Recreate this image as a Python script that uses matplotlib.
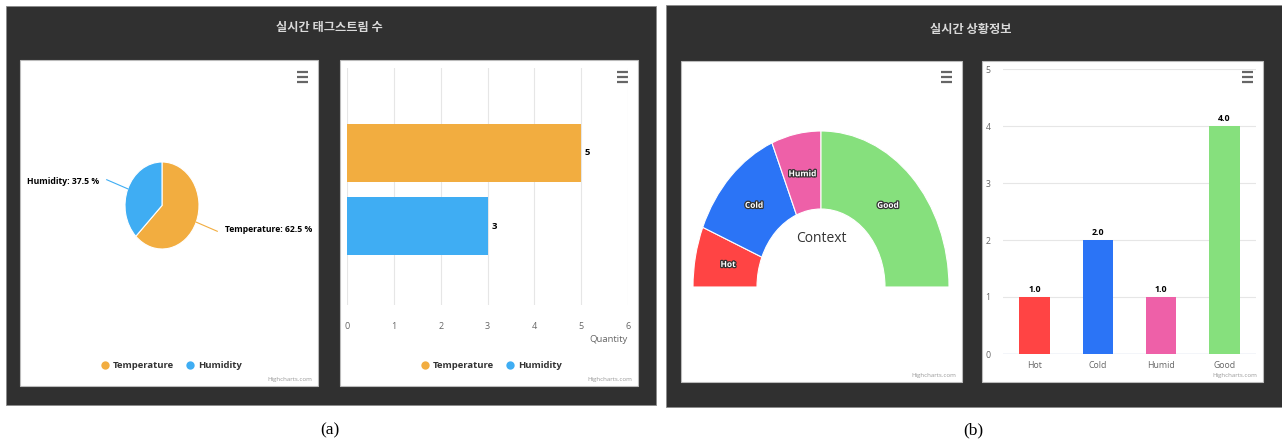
import numpy as np
import matplotlib
matplotlib.use("Agg")
import matplotlib.pyplot as plt
from matplotlib.patches import Rectangle
import matplotlib.patheffects as pe

W, H = 1282, 444

# tag stream counts
stream_names = ["Temperature", "Humidity"]
stream_counts = [5, 3]
stream_colors = ["#F2AD40", "#3FADF3"]

# context state counts
context_names = ["Hot", "Cold", "Humid", "Good"]
context_counts = [1.0, 2.0, 1.0, 4.0]
context_colors = ["#FF4444", "#2B74F6", "#EE60A8", "#86E07D"]

panel_titles = ["실시간 태그스트림 수", "실시간 상황정보"]
captions = ["(a)", "(b)"]

plt.rcParams["font.family"] = ["Open Sans", "DejaVu Sans"]
KR = ["Noto Sans CJK KR", "DejaVu Sans"]
DARK = "#303030"
GRID = "#E6E6E6"
TXT = "#333333"
LBL = "#666666"

fig = plt.figure(figsize=(W / 100, H / 100), dpi=100, facecolor="white")

# background layer in pixel coordinates
bg = fig.add_axes([0, 0, 1, 1])
bg.set_xlim(0, W)
bg.set_ylim(H, 0)
bg.axis("off")


def px_axes(x0, y0, x1, y1):
    a = fig.add_axes([x0 / W, 1 - y1 / H, (x1 - x0) / W, (y1 - y0) / H])
    a.set_facecolor("none")
    return a


def rect(x0, y0, x1, y1, **kw):
    bg.add_patch(Rectangle((x0, y0), x1 - x0, y1 - y0, **kw))


# dark dashboard panels
rect(6, 6, 656, 405, facecolor=DARK, edgecolor="#8a8a8a", lw=0.6)
rect(666, 5, 1282, 407, facecolor=DARK, edgecolor="#8a8a8a", lw=0.6)
bg.text(329, 28, panel_titles[0], family=KR, fontsize=8.8, color="#DADADA",
        ha="center", va="center", fontweight="bold")
bg.text(971, 29, panel_titles[1], family=KR, fontsize=8.8, color="#DADADA",
        ha="center", va="center", fontweight="bold")
for cx, cap in zip([330, 973], captions):
    bg.text(cx, 430, cap, family="Liberation Serif", fontsize=12.5, color="black",
            ha="center", va="center")

cards = [(20, 60, 318, 386), (340, 60, 638, 386), (681, 61, 962, 382), (982, 61, 1263, 382)]
for (x0, y0, x1, y1) in cards:
    rect(x0, y0, x1, y1, facecolor="white", edgecolor="#BBBBBB", lw=0.8)
    # context menu icon
    for dy in (-5, 0, 5):
        bg.plot([x1 - 21, x1 - 10], [77 + dy, 77 + dy], color="#666666", lw=1.6,
                solid_capstyle="butt", zorder=5)
    bg.text(x1 - 6, y1 - 7, "Highcharts.com", fontsize=4.4, color="#999999",
            ha="right", va="center")


# legend rows under the two stream charts
def stream_legend(x_start):
    x = x_start
    for name, col in zip(stream_names, stream_colors):
        bg.plot(x, 365, "o", ms=6, color=col, mec="none")
        bg.text(x + 8, 365.5, name, fontsize=6.8, color=TXT, fontweight="bold",
                ha="left", va="center")
        x += 85


stream_legend(105)
stream_legend(425)

# --- pie: tag stream share ---
pcx, pcy, rx, ry = 162, 205.5, 37, 43.5
ax1 = px_axes(pcx - 1.25 * rx, pcy - 1.25 * ry, pcx + 1.25 * rx, pcy + 1.25 * ry)
wedges, _ = ax1.pie(stream_counts, colors=stream_colors, startangle=90, counterclock=False,
                    wedgeprops=dict(edgecolor="white", linewidth=0.8))
ax1.set_aspect("auto")
ax1.set_xlim(-1.25, 1.25)
ax1.set_ylim(-1.25, 1.25)
total = sum(stream_counts)
for w, name, val, col in zip(wedges, stream_names, stream_counts, stream_colors):
    th = np.deg2rad((w.theta1 + w.theta2) / 2)
    p1 = np.array([np.cos(th), np.sin(th)])
    sx, sy = np.sign(p1[0]), np.sign(p1[1])
    p2 = p1 + np.array([sx * 0.57, sy * 0.21])
    ax1.plot([p1[0], p2[0]], [p1[1], p2[1]], color=col, lw=0.8, clip_on=False)
    ax1.text(p2[0] + sx * 0.2, p2[1] - sy * 0.04, f"{name}: {100 * val / total:.1f} %",
             fontsize=6.2, fontweight="bold", color="black",
             ha="left" if sx > 0 else "right", va="center")

# --- horizontal bars: tag stream counts ---
ax2 = px_axes(347, 68, 628, 305)
ypos = np.arange(len(stream_names))
ax2.barh(ypos, stream_counts, height=0.8, color=stream_colors, zorder=3)
ax2.set_xlim(0, 6)
ax2.set_ylim(2.08, -1.16)
ax2.set_xticks(range(7))
ax2.grid(axis="x", color=GRID, lw=0.8, zorder=0)
ax2.set_yticks([])
ax2.tick_params(axis="x", length=0, pad=12, labelsize=6.5, labelcolor=LBL)
for s in ax2.spines.values():
    s.set_visible(False)
for y, v in zip(ypos, stream_counts):
    ax2.text(v + 0.08, y, f"{v}", fontsize=6.8, fontweight="bold", color="black",
             ha="left", va="center")
bg.text(628, 339, "Quantity", fontsize=6.8, color=LBL, ha="right", va="center")

# --- semicircle donut: context ---
dcx, dcy, drx, dry = 821, 287, 128, 156
ax3 = px_axes(dcx - 1.1 * drx, dcy - 1.1 * dry, dcx + 1.1 * drx, dcy + 0.3 * dry)
vals = context_counts + [sum(context_counts)]
wedges, texts = ax3.pie(vals, colors=context_colors + ["none"], startangle=180,
                        counterclock=False, labels=context_names + [""], labeldistance=0.74,
                        wedgeprops=dict(width=0.5, edgecolor="white", linewidth=0.8),
                        textprops=dict(fontsize=6, fontweight="bold", color="white"))
wedges[-1].set_visible(False)
for t in texts:
    t.set_ha("center")
    t.set_va("center")
    t.set_path_effects([pe.withStroke(linewidth=1.8, foreground="#333333")])
ax3.set_aspect("auto")
ax3.set_xlim(-1.1, 1.1)
ax3.set_ylim(-0.3, 1.1)
ax3.text(0, 0.31, "Context", fontsize=10, color=TXT, ha="center", va="center")

# --- columns: context counts ---
ax4 = px_axes(1003, 69, 1256, 354)
xpos = np.arange(len(context_names))
ax4.bar(xpos, context_counts, width=0.48, color=context_colors, zorder=3)
ax4.set_xlim(-0.5, 3.5)
ax4.set_ylim(0, 5)
ax4.set_yticks(range(6))
ax4.set_xticks(xpos, context_names)
ax4.grid(axis="y", color=GRID, lw=0.8, zorder=0)
ax4.tick_params(axis="both", length=0, labelsize=6.3, labelcolor=LBL)
ax4.tick_params(axis="x", pad=5)
ax4.tick_params(axis="y", pad=9)
for s in ax4.spines.values():
    s.set_visible(False)
ax4.axhline(0, color="#CCD6EB", lw=1, zorder=2)
for x, v in zip(xpos, context_counts):
    ax4.text(x, v + 0.06, f"{v:.1f}", fontsize=6.3, fontweight="bold", color="black",
             ha="center", va="bottom")

fig.savefig("out.png", dpi=100, facecolor="white")
